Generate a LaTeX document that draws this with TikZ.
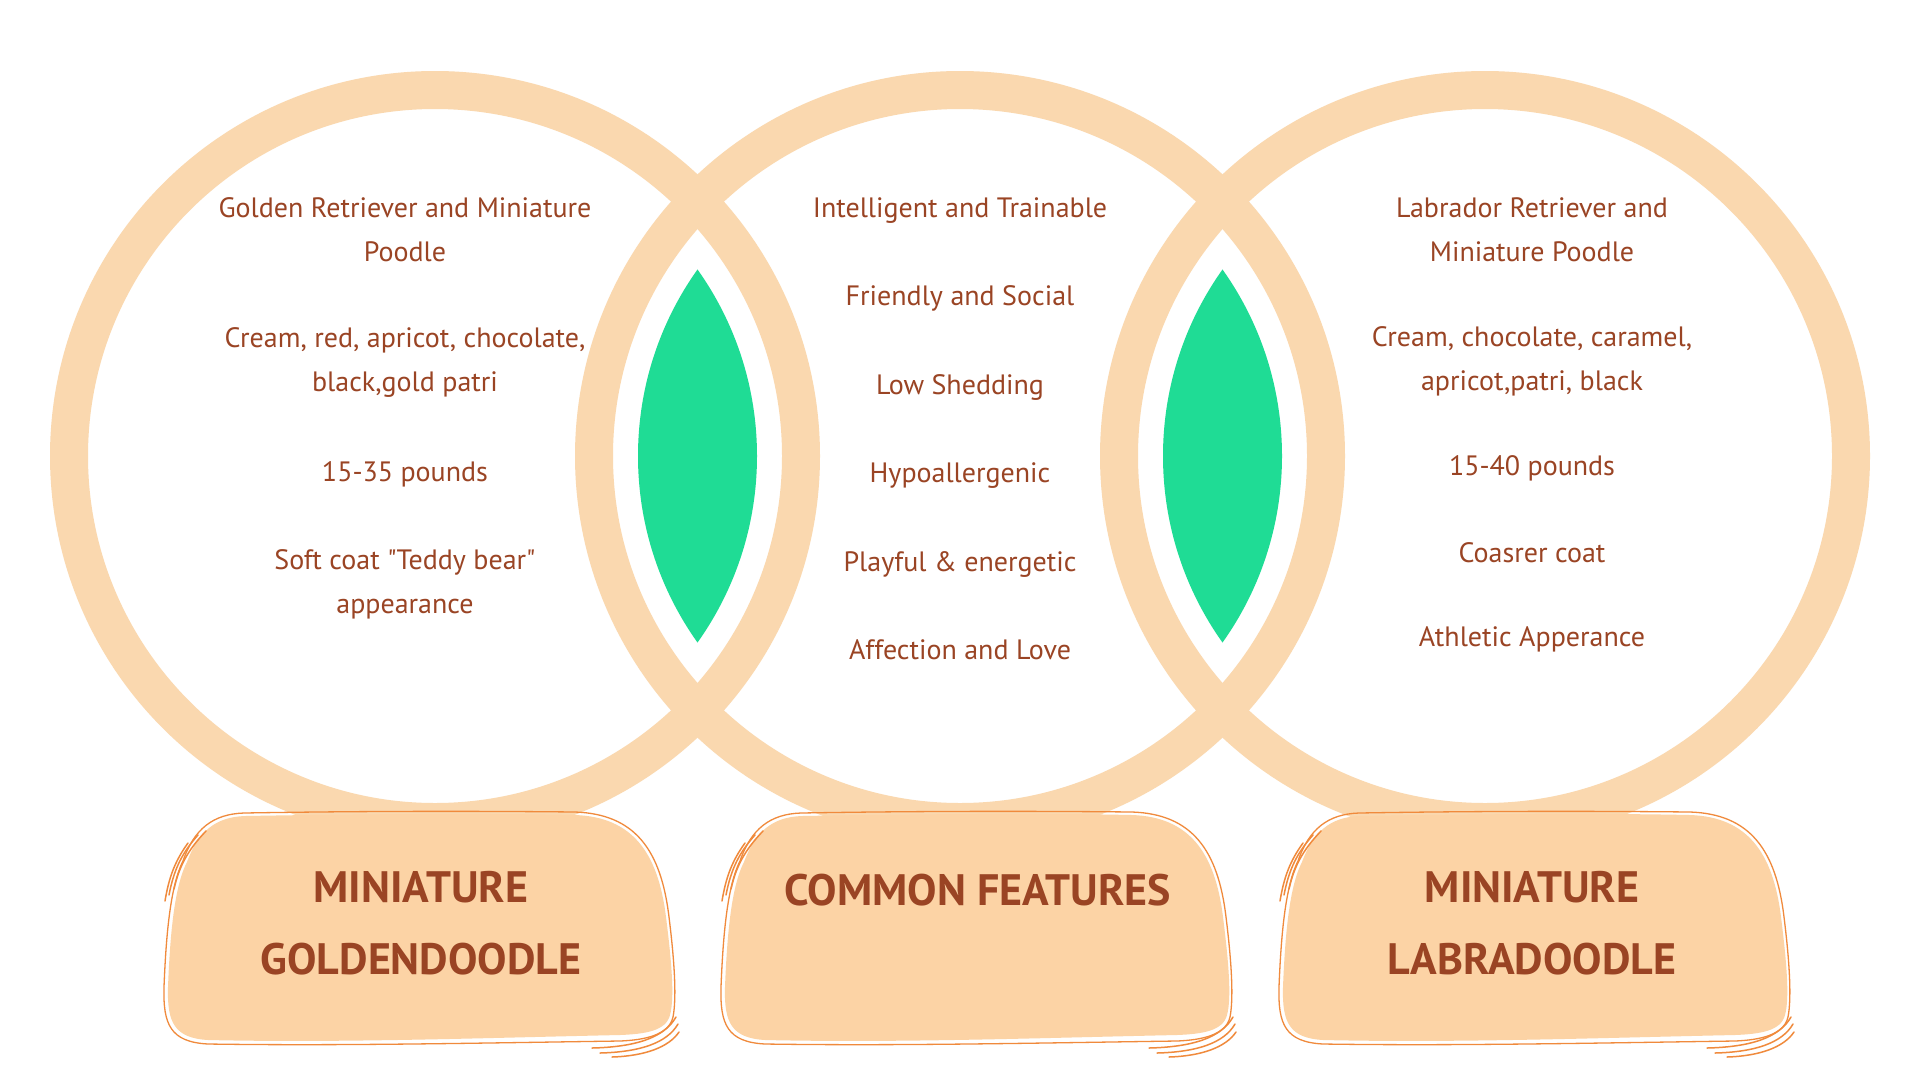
\documentclass[tikz,border=0pt]{standalone}
\usepackage{fontspec}
\setmainfont{PT Sans}[Ligatures=TeXOff]
\usetikzlibrary{positioning}

\definecolor{ringpeach}{HTML}{FAD8AF}
\definecolor{leafgreen}{HTML}{1FDC95}
\definecolor{boxpeach}{HTML}{FCD3A5}
\definecolor{edgeorange}{HTML}{F08A3C}
\definecolor{dogbrown}{HTML}{9A4424}

\begin{document}
\begin{tikzpicture}[
x=1pt, y=-1pt,
node distance=61pt,
ring/.style={draw=ringpeach, line width=38pt},
item/.style={align=center, text=dogbrown, inner sep=0pt, font=\fontsize{28}{44}\selectfont},
common/.style={item, text height=20pt, text depth=7pt},
title/.style={align=center, text=dogbrown, inner sep=0pt, font=\fontsize{44}{72}\selectfont\bfseries},
sketch/.style={draw=edgeorange, line width=1.5pt, line cap=round},
blob/.pic={
  % soft label card under each circle
  \fill[boxpeach] (-175,-111) .. controls (-60,-113) and (60,-114) .. (155,-112)
    .. controls (212,-110) and (238,-75) .. (246,-10)
    .. controls (251,30) and (255,70) .. (250,88)
    .. controls (246,104) and (225,107) .. (200,108)
    .. controls (60,111) and (-80,116) .. (-212,113)
    .. controls (-246,111) and (-253,95) .. (-252,60)
    .. controls (-250,10) and (-246,-40) .. (-233,-65)
    .. controls (-222,-95) and (-205,-110) .. (-175,-111) -- cycle;
  \draw[sketch, line width=1.3pt] (-176,-114) .. controls (-60,-116) and (60,-116) .. (155,-115)
    .. controls (215,-113) and (241,-77) .. (249,-10)
    .. controls (254,30) and (257,70) .. (253,90)
    .. controls (249,108) and (225,113) .. (200,114)
    .. controls (60,116) and (-80,119) .. (-212,117)
    .. controls (-250,115) and (-257,97) .. (-256,60)
    .. controls (-254,10) and (-250,-40) .. (-237,-66)
    .. controls (-226,-98) and (-207,-113) .. (-176,-114);
  \draw[sketch] (-246,-38) .. controls (-241,-60) and (-233,-76) .. (-214,-96);
  \draw[sketch] (-251,-32) .. controls (-246,-58) and (-238,-74) .. (-222,-92);
  \draw[sketch] (-255,-26) .. controls (-251,-50) and (-245,-66) .. (-232,-84);
  \draw[sketch] (172,121) .. controls (215,120) and (244,111) .. (256,90);
  \draw[sketch] (180,126) .. controls (220,125) and (247,116) .. (258,97);
  \draw[sketch] (192,130) .. controls (225,129) and (249,120) .. (259,105);
}
]
\useasboundingbox[fill=white] (0,0) rectangle (1920,1080);

% rings
\draw[ring] (435,456) circle (366);
\draw[ring] (960,456) circle (366);
\draw[ring] (1485,456) circle (366);

% overlaps
\begin{scope}
  \clip (435,456) circle (322);
  \fill[leafgreen] (960,456) circle (322);
\end{scope}
\begin{scope}
  \clip (960,456) circle (322);
  \fill[leafgreen] (1485,456) circle (322);
\end{scope}

% left circle
\node[item] (goldA) at (405,230) {Golden Retriever and Miniature\\Poodle};
\node[item] (goldB) at (405,362) {Cream, red, apricot, chocolate,\\black,gold patri};
\node[item] (goldC) at (405,474) {15-35 pounds};
\node[item] (goldD) at (405,584) {Soft coat "Teddy bear"\\appearance};

% middle circle
\node[common] (comA) at (960,211) {Intelligent and Trainable};
\node[common, below=of comA] (comB) {Friendly and Social};
\node[common, below=of comB] (comC) {Low Shedding};
\node[common, below=of comC] (comD) {Hypoallergenic};
\node[common, below=of comD] (comE) {Playful \& energetic};
\node[common, below=of comE] (comF) {Affection and Love};

% right circle
\node[item] (labA) at (1532,230) {Labrador Retriever and\\Miniature Poodle};
\node[item] (labB) at (1532,361) {Cream, chocolate, caramel,\\apricot,patri, black};
\node[item] (labC) at (1532,468) {15-40 pounds};
\node[item] (labD) at (1532,553) {Coasrer coat};
\node[item] (labE) at (1532,639) {Athletic Apperance};

% labels
\pic at (420,927) {blob};
\pic at (977,927) {blob};
\pic at (1535,927) {blob};
\node[title] (goldTitle) at (421,923) {MINIATURE\\GOLDENDOODLE};
\node[title] (comTitle) at (978,890) {COMMON FEATURES};
\node[title] (labTitle) at (1532,923) {MINIATURE\\LABRADOODLE};
\end{tikzpicture}
\end{document}
